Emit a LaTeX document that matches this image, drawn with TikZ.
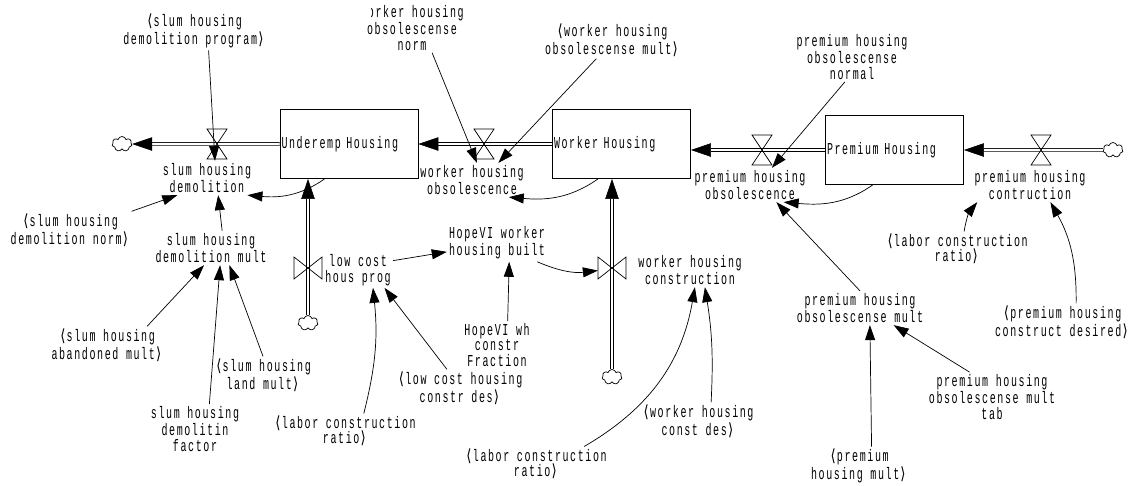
\documentclass[tikz,border=0pt]{standalone}
\usepackage{fontspec}
\usepackage{tikz}
\usetikzlibrary{arrows.meta,shapes.symbols}
\newfontfamily\vfont[FakeStretch=0.6,LetterSpace=9.6]{Liberation Mono}
\newfontfamily\brfont[FakeStretch=0.8]{DejaVu Sans}
\newcommand\shl{\makebox[4.33pt]{\brfont ⟨}}
\newcommand\shr{\makebox[4.33pt]{\brfont ⟩}}

\begin{document}
\begin{tikzpicture}[x=0.02cm,y=-0.02cm,font=\vfont\fontsize{9.5}{8.8}\selectfont,
 var/.style={align=center,inner sep=0.04cm},
 stock/.style={draw,line width=0.5pt,minimum height=1.38cm,text width=2.7cm,inner sep=0.03cm,align=left},
 pipe/.style={draw,line width=0.3pt,double,double distance=0.05cm,-{Triangle[length=0.4cm,width=0.27cm]}},
 conn/.style={draw,line width=0.4pt,-{Triangle[length=0.3cm,width=0.2cm]}},
 sink/.style={cloud,cloud puffs=7,aspect=1.3,draw,line width=0.4pt,minimum width=0.4cm,minimum height=0.3cm,inner sep=0},
 hvalve/.pic={\draw[line width=0.4pt] (-10,-15) -- (10,-15) -- (-10,15) -- (10,15) -- cycle; \node[circle,minimum size=0.56cm,inner sep=0] (-c) {};},
 vvalve/.pic={\draw[line width=0.4pt] (-14,-11) -- (-14,11) -- (14,-11) -- (14,11) -- cycle; \node[circle,minimum size=0.56cm,inner sep=0] (-c) {};}]
 \useasboundingbox (0,0) rectangle (1139,485);
 \node[stock] (under) at (349,144) {Underemp Housing};
 \node[stock] (worker) at (621.5,144) {Worker Housing};
 \node[stock] (premium) at (894.5,150) {Premium Housing};
 \node[sink] (cloudL) at (122,144) {}; \node[sink] (cloudR) at (1113,150) {};
 \node[sink] (cloudB1) at (308,323) {}; \node[sink] (cloudB2) at (612,377) {};
 \draw[pipe] (under.west) -- (cloudL); \draw[pipe] (worker.west) -- (under.east);
 \draw[pipe] (premium.west) -- (premium.west -| worker.east); \draw[pipe] (cloudR) -- (premium.east);
 \draw[pipe] (cloudB1) -- (cloudB1 |- under.south); \draw[pipe] (cloudB2) -- (cloudB2 |- worker.south);
 \pic (vdem) at (217,144) {hvalve}; \pic (vwobs) at (484,144) {hvalve};
 \pic (vpobs) at (762,150) {hvalve}; \pic (vpcon) at (1041,150) {hvalve};
 \pic (vlow) at (308,268) {vvalve}; \pic (vwc) at (612,268) {vvalve};
 \node[var] (dem) at (207,178) {slum housing\\demolition};
 \node[var] (wobs) at (472,180) {worker housing\\obsolescence};
 \node[var] (pobs) at (750,185) {premium housing\\obsolescence};
 \node[var] (pcon) at (1030,185) {premium housing\\contruction};
 \node[var] (lowcost) at (358,270) {low cost\\hous prog};
 \node[var] (wconst) at (690,270) {worker housing\\construction};
 \node[var] (demprog) at (194,31) {\shl slum housing\\demolition program\shr};
 \node[var] (demnorm) at (70,230) {\shl slum housing\\demolition norm\shr};
 \node[var] (demmult) at (211,248) {slum housing\\demolition mult};
 \node[var] (abandoned) at (107,345) {\shl slum housing\\abandoned mult\shr};
 \node[var] (landmult) at (263,375) {\shl slum housing\\land mult\shr};
 \node[var] (factor) at (195,429) {slum housing\\demolitin\\factor};
 \node[var] (labor1) at (345,431) {\shl labor construction\\ratio\shr};
 \node[var] (hopebuilt) at (497,243) {HopeVI worker\\housing built};
 \node[var] (hopefrac) at (497,345) {HopeVI wh\\constr\\Fraction};
 \node[var] (lcdes) at (460,388) {\shl low cost housing\\constr des\shr};
 \node[var] (labor2) at (536,464) {\shl labor construction\\ratio\shr};
 \node[var] (wcdes) at (698,421) {\shl worker housing\\const des\shr};
 \begin{scope}
  \clip (371,0) rectangle (470,21) (355,21) rectangle (470,60);
  \node[var] (wnorm) at (412,28) {worker housing\\obsolescense\\norm};
 \end{scope}
 \node[var] (wobsmult) at (612,40) {\shl worker housing\\obsolescense mult\shr};
 \node[var] (pnormal) at (852,57) {premium housing\\obsolescense\\normal};
 \node[var] (labor3) at (957,249) {\shl labor construction\\ratio\shr};
 \node[var] (pdes) at (1062,322) {\shl premium housing\\construct desired\shr};
 \node[var] (pmult) at (860,308) {premium housing\\obsolescense mult};
 \node[var] (ptab) at (992,397) {premium housing\\obsolescense mult\\tab};
 \node[var] (phmult) at (859,466) {\shl premium\\housing mult\shr};
 \draw[conn] (demprog.-53) -- (dem.65); \draw[conn] (demnorm.north east) -- (dem.-150);
 \draw[conn] (demmult.57) -- (dem.-57); \draw[conn] (under.-125) to[out=-145,in=-5] (dem.-23);
 \draw[conn] (abandoned.25) -- (demmult.-112); \draw[conn] (factor.60) -- (demmult.-62);
 \draw[conn] (landmult.north) -- (demmult.-43);
 \draw[conn] (labor1.43) to[bend right=10] (lowcost.-50); \draw[conn] (lcdes.125) -- (lowcost.-34);
 \draw[conn] (lowcost.15) -- (hopebuilt.-170); \draw[conn] (hopefrac.66) -- (hopebuilt.-57);
 \draw[conn] (hopebuilt.-25) to[bend right=15] (vwc-c);
 \draw[conn] (labor2.20) to[bend right=25] (wconst.-74); \draw[conn] (wcdes.55) to[bend right=6] (wconst.-49);
 \draw[conn] (wnorm.-51) -- (wobs.74); \draw[conn] (wobsmult.-130) -- (wobs.33);
 \draw[conn] (worker.-124) to[out=-145,in=-5] (wobs.-25);
 \draw[conn] (pnormal.-106) -- (pobs.38); \draw[conn] (premium.-122) to[out=-145,in=-5] (pobs.-27);
 \draw[conn] (pmult.north) -- (pobs.-33);
 \draw[conn] (labor3.68) to[bend left=15] (pcon.-162); \draw[conn] (pdes.53) to[bend right=15] (pcon.-40);
 \draw[conn] (phmult.57) -- (pmult.-60); \draw[conn] (ptab.132) -- (pmult.-27);
\end{tikzpicture}
\end{document}
